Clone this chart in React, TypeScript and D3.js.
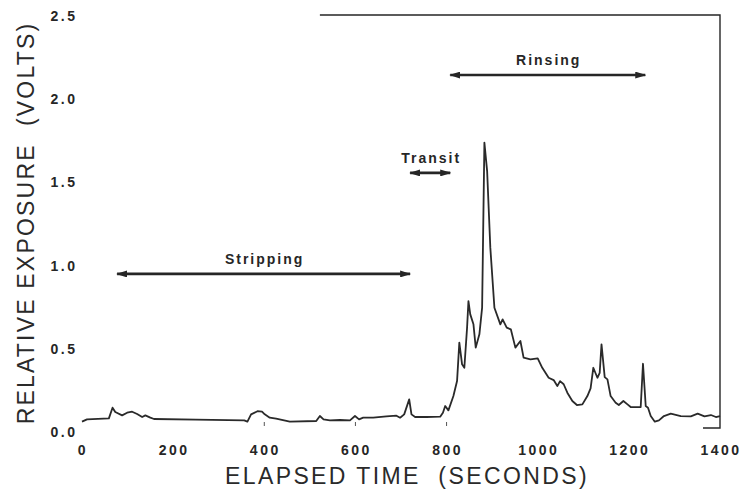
import React, { useEffect, useRef } from 'react';
import * as d3 from 'd3';

// trace
const times = [
  0, 11, 59, 67, 73, 88, 99, 110, 121, 132, 139, 150, 158, 250, 356, 363, 371, 385, 395, 401,
  412, 426, 456, 514, 522, 530, 544, 566, 588, 599, 608, 617, 639, 668, 690, 698, 707, 718, 723, 731,
  756, 786, 792, 797, 804, 815, 823, 828, 834, 839, 845, 848, 852, 859, 864, 872, 878, 883, 889, 896,
  905, 918, 923, 932, 941, 951, 962, 969, 984, 1000, 1010, 1024, 1035, 1043, 1049, 1057, 1065, 1076, 1086, 1098,
  1109, 1116, 1122, 1131, 1136, 1140, 1147, 1153, 1160, 1171, 1178, 1188, 1197, 1204, 1226, 1231, 1237, 1242, 1248, 1257,
  1266, 1277, 1292, 1314, 1336, 1351, 1366, 1380, 1391, 1400,
];
const volts = [
  0.062, 0.076, 0.082, 0.146, 0.12, 0.1, 0.116, 0.122, 0.108, 0.09, 0.1, 0.086, 0.078, 0.074, 0.07, 0.062, 0.106, 0.125, 0.122, 0.106,
  0.086, 0.08, 0.062, 0.066, 0.096, 0.076, 0.07, 0.072, 0.07, 0.096, 0.076, 0.086, 0.086, 0.094, 0.098, 0.086, 0.106, 0.196, 0.106, 0.09,
  0.09, 0.092, 0.116, 0.156, 0.13, 0.216, 0.306, 0.537, 0.407, 0.386, 0.627, 0.787, 0.707, 0.647, 0.507, 0.587, 0.747, 1.739, 1.568, 1.108,
  0.747, 0.647, 0.677, 0.627, 0.617, 0.507, 0.547, 0.447, 0.437, 0.443, 0.386, 0.326, 0.312, 0.276, 0.306, 0.287, 0.236, 0.186, 0.162, 0.166,
  0.216, 0.262, 0.386, 0.326, 0.356, 0.527, 0.33, 0.316, 0.216, 0.176, 0.162, 0.186, 0.166, 0.15, 0.15, 0.41, 0.156, 0.146, 0.096, 0.062,
  0.07, 0.096, 0.11, 0.096, 0.094, 0.11, 0.094, 0.102, 0.09, 0.096,
];

const xTicks = [0, 200, 400, 600, 800, 1000, 1200, 1400];
const yTicks = [0, 0.5, 1.0, 1.5, 2.0, 2.5];
const markTimes = [400, 600, 800];

const phaseLabels = ['Stripping', 'Transit', 'Rinsing'];
const phaseStart = [77, 720, 808];
const phaseEnd = [720, 808, 1236];
const phaseLevel = [0.95, 1.557, 2.145];

const frameStart = 522;

const App = () => {
  const ref = useRef(null);

  useEffect(() => {
    const svg = d3.select(ref.current);
    svg.selectAll('*').remove();

    const x = d3.scaleLinear().domain([0, 1400]).range([82, 720]);
    const y = d3.scaleLinear().domain([0, 2.5]).range([432, 16]);
    const ink = '#262626';

    svg
      .append('defs')
      .append('marker')
      .attr('id', 'head')
      .attr('markerUnits', 'userSpaceOnUse')
      .attr('markerWidth', 11)
      .attr('markerHeight', 7)
      .attr('refX', 10)
      .attr('refY', 3.5)
      .attr('orient', 'auto-start-reverse')
      .append('path')
      .attr('d', 'M0,0 L11,3.5 L0,7 Z')
      .attr('fill', ink);

    // partial frame: top and right side
    svg
      .append('path')
      .attr('d', `M${x(frameStart)},${y(2.5) - 1} L${x(1400)},${y(2.5) - 1} L${x(1400)},${y(0) - 4} L${x(1400) - 17},${y(0) - 4}`)
      .attr('fill', 'none')
      .attr('stroke', ink)
      .attr('stroke-width', 1.4);

    // tick labels
    svg
      .selectAll('.xt')
      .data(xTicks)
      .enter()
      .append('text')
      .attr('x', (d) => x(d) + 1)
      .attr('y', 455)
      .attr('text-anchor', 'middle')
      .attr('font-family', 'Liberation Sans, Arial, sans-serif')
      .attr('font-weight', 'bold')
      .attr('font-size', 14)
      .attr('letter-spacing', 2.5)
      .attr('fill', ink)
      .text((d) => d);

    svg
      .selectAll('.yt')
      .data(yTicks)
      .enter()
      .append('text')
      .attr('x', 64)
      .attr('y', (d) => y(d))
      .attr('dy', '0.35em')
      .attr('text-anchor', 'middle')
      .attr('font-family', 'Liberation Sans, Arial, sans-serif')
      .attr('font-weight', 'bold')
      .attr('font-size', 14)
      .attr('letter-spacing', 2.5)
      .attr('fill', ink)
      .text((d) => d.toFixed(1));

    // little pen marks under the trace
    svg
      .selectAll('.mk')
      .data(markTimes)
      .enter()
      .append('line')
      .attr('x1', (d) => x(d))
      .attr('x2', (d) => x(d))
      .attr('y1', y(0) - 10)
      .attr('y2', y(0) - 6)
      .attr('stroke', '#555')
      .attr('stroke-width', 1);

    // the trace
    const line = d3
      .line()
      .x((d) => x(d[0]))
      .y((d) => y(d[1]));
    svg
      .append('path')
      .datum(times.map((t, i) => [t, volts[i]]))
      .attr('d', line)
      .attr('fill', 'none')
      .attr('stroke', '#2a2a2a')
      .attr('stroke-width', 1.8)
      .attr('stroke-linejoin', 'round');

    // phase arrows
    phaseLabels.forEach((label, i) => {
      svg
        .append('line')
        .attr('x1', x(phaseStart[i]))
        .attr('x2', x(phaseEnd[i]))
        .attr('y1', y(phaseLevel[i]))
        .attr('y2', y(phaseLevel[i]))
        .attr('stroke', ink)
        .attr('stroke-width', 2.6)
        .attr('marker-start', 'url(#head)')
        .attr('marker-end', 'url(#head)');
      svg
        .append('text')
        .attr('x', x((phaseStart[i] + phaseEnd[i]) / 2) + 1)
        .attr('y', y(phaseLevel[i]) - 10)
        .attr('text-anchor', 'middle')
        .attr('font-family', 'Liberation Sans, Arial, sans-serif')
        .attr('font-weight', 'bold')
        .attr('font-size', 14)
        .attr('letter-spacing', 2)
        .attr('fill', ink)
        .text(label);
    });

    // axis titles (double gap before the unit)
    svg
      .append('text')
      .attr('x', 407)
      .attr('y', 484)
      .attr('text-anchor', 'middle')
      .attr('font-family', 'Liberation Sans, Arial, sans-serif')
      .attr('font-size', 23)
      .attr('letter-spacing', 2.4)
      .attr('fill', '#2a2a2a')
      .text('ELAPSED TIME\u00A0\u00A0(SECONDS)');

    svg
      .append('text')
      .attr('transform', 'translate(34, 223) rotate(-90)')
      .attr('text-anchor', 'middle')
      .attr('font-family', 'Liberation Sans, Arial, sans-serif')
      .attr('font-size', 23)
      .attr('letter-spacing', 2.2)
      .attr('fill', '#2a2a2a')
      .text('RELATIVE EXPOSURE\u00A0\u00A0(VOLTS)');
  }, []);

  return (
    <svg ref={ref} width={746} height={502} style={{ position: 'absolute', left: 0, top: 0, background: '#fff' }} />
  );
};

export default App;
